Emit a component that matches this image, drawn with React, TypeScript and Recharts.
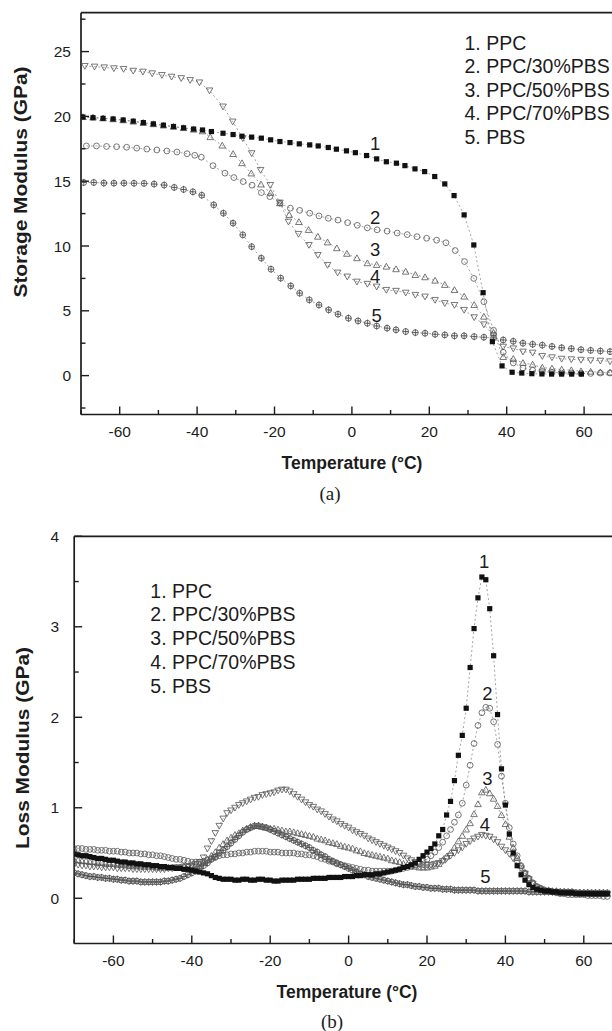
import React from 'react';
import { ScatterChart, Scatter, XAxis, YAxis, ReferenceLine } from 'recharts';

// ---------- (a) Storage modulus: [temperature °C, E' GPa] ----------
const storagePPC: [number, number][] = [
  [-69.5, 19.95], [-66.9, 19.9], [-64.3, 19.85], [-61.7, 19.8], [-59.1, 19.72], [-56.5, 19.63], [-53.9, 19.52], [-51.3, 19.42], [-48.7, 19.32], [-46.1, 19.22],
  [-43.5, 19.12], [-40.9, 19.02], [-38.6, 18.95], [-36.3, 18.83], [-33.3, 18.7], [-30.7, 18.6], [-28.4, 18.47], [-25.9, 18.4], [-23.4, 18.32], [-21, 18.19],
  [-18.6, 18.06], [-16, 17.98], [-13.6, 17.88], [-10.9, 17.8], [-8.7, 17.72], [-6.1, 17.6], [-4.0, 17.47], [-1.4, 17.34], [0.9, 17.2], [3.8, 16.98],
  [6.4, 16.72], [8.9, 16.5], [11.5, 16.39], [13.7, 16.2], [16.3, 15.95], [18.8, 15.74], [21.4, 15.36], [24.0, 14.79], [26.4, 13.89], [29.0, 12.4],
  [31.5, 10.08], [33.9, 6.4], [36.3, 2.62], [38.8, 0.75], [41.4, 0.26], [43.9, 0.2], [46.5, 0.15], [49.1, 0.13], [51.6, 0.12], [54.2, 0.12],
  [56.8, 0.12], [59.3, 0.12],
];
const storage30: [number, number][] = [
  [-68.6, 17.72], [-66, 17.72], [-63.4, 17.68], [-60.8, 17.66], [-58.2, 17.62], [-55.6, 17.55], [-53, 17.48], [-50.4, 17.41], [-47.8, 17.33], [-45.2, 17.25],
  [-42.6, 17.12], [-40.6, 17.0], [-38.9, 16.85], [-35.9, 16.2], [-32.8, 15.62], [-30.5, 15.28], [-28.1, 14.97], [-25.8, 14.69], [-23.4, 14.12], [-21.2, 13.81],
  [-18.6, 13.3], [-15.9, 12.92], [-13.5, 12.75], [-10.9, 12.53], [-8.5, 12.32], [-6.1, 12.14], [-3.6, 12.0], [-1.1, 11.8], [1.4, 11.6], [4.0, 11.4],
  [6.5, 11.25], [9.1, 11.15], [11.7, 11.0], [14.3, 10.88], [16.8, 10.72], [19.3, 10.6], [21.9, 10.45], [24.3, 10.25], [26.7, 9.65], [29.1, 8.8],
  [31.5, 7.5], [34.1, 5.7], [36.6, 3.5], [39.1, 1.8], [41.7, 0.98], [44.2, 0.59], [46.7, 0.41], [49.2, 0.33], [51.7, 0.26], [54.2, 0.2],
  [56.7, 0.2], [59.2, 0.17], [61.7, 0.17], [64.2, 0.2], [66.7, 0.2],
];
const storage50: [number, number][] = [
  [-69.5, 19.95], [-66.9, 19.92], [-64.3, 19.85], [-61.7, 19.78], [-59.1, 19.7], [-56.5, 19.6], [-53.9, 19.5], [-51.3, 19.4], [-48.7, 19.3], [-46.1, 19.2],
  [-43.5, 19.1], [-40.9, 18.98], [-38.6, 18.85], [-36.6, 18.4], [-33.5, 17.75], [-30.7, 17.1], [-28.4, 16.39], [-26, 15.6], [-23.5, 14.75], [-21, 14.1],
  [-18.6, 13.3], [-16.2, 12.4], [-13.7, 11.85], [-11.2, 11.24], [-8.8, 10.72], [-6.3, 10.28], [-3.9, 9.83], [-1.3, 9.4], [1.3, 9.06], [4, 8.67],
  [6.4, 8.54], [8.9, 8.41], [11.4, 8.21], [13.9, 8.02], [16.4, 7.77], [18.9, 7.59], [21.5, 7.33], [24, 7.0], [26.5, 6.61], [29, 6.1],
  [31.6, 5.45], [34.1, 4.55], [36.6, 3.3], [39.1, 1.44], [41.7, 1.29], [44.2, 0.98], [46.7, 0.85], [49.2, 0.62], [51.7, 0.55], [54.2, 0.47],
  [56.7, 0.42], [59.2, 0.34], [61.7, 0.3], [64.2, 0.26], [66.7, 0.24],
];
const storage70: [number, number][] = [
  [-69, 23.89], [-66.5, 23.84], [-64, 23.78], [-61.5, 23.71], [-59, 23.66], [-56.5, 23.52], [-54, 23.45], [-51.6, 23.32], [-49.1, 23.19], [-46.6, 23.06],
  [-44.1, 22.95], [-41.8, 22.8], [-39.4, 22.62], [-36.8, 22.0], [-33.3, 20.76], [-30.8, 19.6], [-28.2, 18.32], [-25.9, 17.16], [-23.6, 15.87], [-21.1, 14.71],
  [-18.6, 13.35], [-16.4, 11.88], [-13.8, 10.93], [-11.1, 10.08], [-8.8, 9.31], [-6.3, 8.54], [-3.7, 7.95], [-1.2, 7.64], [1.3, 7.25], [4.0, 7.08],
  [6.4, 6.87], [8.9, 6.61], [11.4, 6.54], [13.9, 6.4], [16.4, 6.23], [18.9, 6.1], [21.5, 5.84], [24, 5.59], [26.5, 5.45], [29, 5.07],
  [31.6, 4.5], [34.1, 3.95], [36.6, 3.1], [39.1, 2.23], [41.7, 2.1], [44.2, 1.85], [46.7, 1.77], [49.2, 1.51], [51.7, 1.41], [54.2, 1.3],
  [56.7, 1.26], [59.2, 1.22], [61.7, 1.18], [64.2, 1.15], [66.7, 1.1],
];
const storagePBS: [number, number][] = [
  [-69.3, 14.9], [-66.7, 14.9], [-64.1, 14.86], [-61.5, 14.85], [-58.9, 14.85], [-56.3, 14.84], [-53.7, 14.83], [-51.1, 14.78], [-48.5, 14.7], [-45.9, 14.52],
  [-43.5, 14.36], [-41.1, 14.18], [-38.8, 13.92], [-35.7, 13.17], [-33.2, 12.53], [-30.7, 11.76], [-28.2, 10.86], [-25.9, 9.95], [-23.4, 9.06], [-20.9, 8.21],
  [-18.4, 7.52], [-15.8, 6.92], [-13.5, 6.36], [-11, 5.84], [-8.5, 5.45], [-6, 5.07], [-3.6, 4.74], [-0.9, 4.43], [1.6, 4.22], [4, 4.04],
  [6.4, 3.83], [9.1, 3.66], [11.4, 3.53], [13.9, 3.4], [16.4, 3.32], [18.9, 3.27], [21.5, 3.19], [24, 3.14], [26.5, 3.07], [29, 3.07],
  [31.6, 3.01], [34.1, 2.96], [36.6, 2.9], [39.1, 2.75], [41.7, 2.65], [44.2, 2.5], [46.7, 2.42], [49.2, 2.35], [51.7, 2.25], [54.2, 2.15],
  [56.7, 2.08], [59.2, 2.0], [61.7, 1.95], [64.2, 1.9], [66.7, 1.85],
];
const storageCurveLabels = [
  { t: 6, e: 17.9, text: '1' },
  { t: 6, e: 12.2, text: '2' },
  { t: 6, e: 9.7, text: '3' },
  { t: 6, e: 7.65, text: '4' },
  { t: 6.4, e: 4.6, text: '5' },
];

// ---------- (b) Loss modulus: shared temperature grid (°C) ----------
const lossTemps = [
  -70, -69, -68, -67, -66, -65, -64, -63, -62, -61,
  -60, -59, -58, -57, -56, -55, -54, -53, -52, -51,
  -50, -49, -48, -47, -46, -45, -44, -43, -42, -41,
  -40, -39, -38, -37, -36, -35, -34, -33, -32, -31,
  -30, -29, -28, -27, -26, -25, -24, -23, -22, -21,
  -20, -19, -18, -17, -16, -15, -14, -13, -12, -11,
  -10, -9, -8, -7, -6, -5, -4, -3, -2, -1,
  0, 1, 2, 3, 4, 5, 6, 7, 8, 9,
  10, 11, 12, 13, 14, 15, 16, 17, 18, 19,
  20, 21, 22, 23, 24, 25, 26, 27, 28, 29,
  30, 31, 32, 33, 34, 35, 36, 37, 38, 39,
  40, 41, 42, 43, 44, 45, 46, 47, 48, 49,
  50, 51, 52, 53, 54, 55, 56, 57, 58, 59,
  60, 61, 62, 63, 64, 65, 66,
];
const lossPPC = [
  .49, .48, .47, .47, .46, .45, .44, .44, .43, .42,
  .42, .41, .40, .40, .39, .39, .38, .38, .37, .37,
  .36, .36, .35, .35, .34, .34, .33, .33, .32, .32,
  .31, .30, .29, .28, .27, .25, .23, .22, .21, .21,
  .21, .20, .20, .21, .21, .20, .20, .21, .21, .20,
  .20, .19, .19, .20, .20, .20, .20, .21, .21, .21,
  .21, .22, .22, .22, .22, .23, .23, .23, .23, .24,
  .24, .24, .25, .25, .26, .26, .26, .27, .27, .28,
  .29, .30, .31, .32, .34, .35, .37, .39, .43, .47,
  .51, .55, .60, .69, .76, .92, 1.07, 1.30, 1.58, 1.80,
  2.10, 2.55, 2.98, 3.32, 3.55, 3.52, 3.20, 2.68, 2.03, 1.43,
  1.03, .71, .50, .36, .26, .20, .15, .12, .10, .09,
  .08, .08, .07, .07, .06, .06, .06, .06, .05, .05,
  .05, .05, .05, .05, .05, .05, .05,
];
const loss30 = [
  .55, .55, .55, .54, .54, .54, .53, .53, .53, .52,
  .52, .52, .51, .51, .50, .50, .50, .49, .49, .48,
  .48, .47, .47, .46, .45, .44, .43, .43, .42, .41,
  .40, .40, .40, .41, .42, .44, .45, .47, .48, .48,
  .49, .49, .50, .50, .51, .51, .52, .52, .52, .52,
  .51, .51, .51, .50, .50, .50, .50, .49, .49, .48,
  .48, .47, .46, .44, .43, .41, .40, .38, .37, .36,
  .35, .34, .33, .32, .31, .31, .30, .30, .30, .30,
  .30, .30, .31, .32, .33, .34, .35, .37, .38, .41,
  .43, .47, .51, .56, .62, .69, .76, .84, .92, 1.05,
  1.25, 1.47, 1.71, 1.91, 2.05, 2.11, 2.10, 1.95, 1.70, 1.35,
  1.05, .78, .60, .47, .36, .28, .22, .17, .13, .11,
  .09, .08, .07, .06, .05, .05, .04, .04, .04, .04,
  .04, .03, .03, .03, .03, .02, .02,
];
const loss50 = [
  .42, .42, .41, .41, .40, .40, .39, .39, .38, .38,
  .38, .37, .37, .37, .36, .36, .36, .35, .35, .35,
  .35, .34, .34, .34, .34, .34, .34, .34, .35, .35,
  .36, .37, .38, .40, .43, .47, .51, .56, .60, .64,
  .67, .70, .72, .75, .77, .79, .80, .80, .79, .78,
  .77, .77, .76, .75, .74, .74, .73, .72, .71, .70,
  .69, .68, .66, .65, .64, .62, .61, .60, .58, .57,
  .56, .55, .53, .52, .50, .49, .48, .47, .46, .45,
  .44, .42, .41, .40, .38, .37, .36, .35, .34, .34,
  .34, .35, .36, .38, .42, .46, .50, .56, .63, .69,
  .76, .83, .93, 1.04, 1.17, 1.20, 1.16, 1.10, 1.02, .92,
  .82, .68, .56, .45, .36, .28, .22, .17, .13, .11,
  .09, .09, .08, .08, .07, .07, .06, .06, .06, .06,
  .06, .06, .05, .05, .05, .05, .05,
];
const loss70 = [
  .37, .37, .36, .36, .35, .35, .35, .34, .34, .34,
  .34, .33, .33, .33, .33, .32, .32, .32, .32, .32,
  .32, .32, .32, .32, .33, .33, .34, .34, .35, .35,
  .36, .38, .40, .45, .55, .63, .72, .80, .88, .94,
  .97, 1.00, 1.03, 1.05, 1.07, 1.09, 1.11, 1.12, 1.14, 1.15,
  1.16, 1.17, 1.19, 1.20, 1.20, 1.18, 1.15, 1.12, 1.09, 1.06,
  1.03, 1.01, .98, .96, .93, .90, .87, .85, .82, .80,
  .78, .75, .73, .71, .69, .66, .64, .62, .60, .58,
  .56, .54, .52, .50, .47, .44, .42, .40, .38, .37,
  .37, .37, .38, .39, .41, .44, .47, .50, .53, .56,
  .60, .63, .66, .68, .70, .69, .68, .65, .62, .57,
  .53, .49, .44, .39, .33, .27, .21, .16, .12, .10,
  .08, .08, .07, .07, .06, .06, .06, .06, .06, .05,
  .05, .05, .05, .05, .05, .05, .05,
];
const lossPBS = [
  .28, .27, .26, .25, .24, .24, .23, .23, .22, .22,
  .21, .21, .20, .20, .19, .19, .19, .18, .18, .18,
  .18, .18, .18, .19, .19, .20, .21, .22, .24, .26,
  .28, .30, .33, .36, .39, .43, .46, .50, .53, .57,
  .61, .65, .69, .73, .76, .78, .80, .80, .79, .78,
  .76, .74, .72, .70, .68, .66, .64, .62, .60, .58,
  .56, .53, .51, .48, .46, .43, .41, .39, .37, .35,
  .33, .31, .29, .27, .26, .24, .23, .22, .21, .20,
  .19, .18, .17, .16, .15, .15, .14, .13, .13, .12,
  .12, .11, .11, .11, .10, .10, .10, .09, .09, .09,
  .09, .09, .09, .08, .08, .08, .08, .08, .08, .08,
  .08, .08, .08, .08, .08, .08, .07, .07, .07, .07,
  .07, .07, .07, .07, .07, .07, .07, .07, .06, .06,
  .06, .06, .06, .06, .06, .06, .06,
];
const lossCurveLabels = [
  { t: 34.6, e: 3.72, text: '1' },
  { t: 35.4, e: 2.26, text: '2' },
  { t: 35.4, e: 1.32, text: '3' },
  { t: 34.8, e: 0.82, text: '4' },
  { t: 34.9, e: 0.24, text: '5' },
];

// ---------- axes / text ----------
const seriesNames = ['1. PPC', '2. PPC/30%PBS', '3. PPC/50%PBS', '4. PPC/70%PBS', '5. PBS'];
const xTicks = [-70, -60, -50, -40, -30, -20, -10, 0, 10, 20, 30, 40, 50, 60, 70];
const xMajor = [-60, -40, -20, 0, 20, 40, 60];
const storageTicks = [-2.5, 0, 2.5, 5, 7.5, 10, 12.5, 15, 17.5, 20, 22.5, 25, 27.5];
const storageMajor = [0, 5, 10, 15, 20, 25];
const lossTicks = [0, 0.5, 1, 1.5, 2, 2.5, 3, 3.5, 4];
const lossMajor = [0, 1, 2, 3, 4];

const FONT = '"Liberation Sans", Arial, Helvetica, sans-serif';
const INK = '#1c1c1c';
const GRAY = '#555';

const pairsToPoints = (pairs: [number, number][]) => pairs.map(([t, e]) => ({ t, e }));
const gridToPoints = (vals: number[]) => lossTemps.map((t, i) => ({ t, e: vals[i] }));

// ---------- marker shapes ----------
const SquareDot = (p: any) => (
  <rect x={p.cx - 2.6} y={p.cy - 2.6} width={5.2} height={5.2} fill="#111" />
);
const CircleDot = (p: any) => (
  <circle cx={p.cx} cy={p.cy} r={2.9} fill="none" stroke={GRAY} strokeWidth={0.8} />
);
const UpDot = (p: any) => (
  <path d={`M${p.cx},${p.cy - 3.3}L${p.cx + 3.3},${p.cy + 2.5}L${p.cx - 3.3},${p.cy + 2.5}Z`} fill="none" stroke={GRAY} strokeWidth={0.8} />
);
const DownDot = (p: any) => (
  <path d={`M${p.cx},${p.cy + 3.3}L${p.cx + 3.3},${p.cy - 2.5}L${p.cx - 3.3},${p.cy - 2.5}Z`} fill="none" stroke={GRAY} strokeWidth={0.8} />
);
const CrossCircleDot = (p: any) => (
  <g stroke="#444" strokeWidth={0.8} fill="none">
    <circle cx={p.cx} cy={p.cy} r={2.9} />
    <line x1={p.cx} x2={p.cx} y1={p.cy - 3.6} y2={p.cy + 3.6} />
    <line x1={p.cx - 2.9} x2={p.cx + 2.9} y1={p.cy} y2={p.cy} />
  </g>
);
const NumberLabel = (p: any) => (
  <text x={p.cx} y={p.cy} textAnchor="middle" dominantBaseline="central" fontSize={18.5} fontFamily={FONT} fill={INK}>
    {p.payload?.text ?? p.text}
  </text>
);

const connector = { stroke: '#666', strokeWidth: 0.6, strokeDasharray: '2 2.5' };

const X_MARGIN = 16.7;
const makeXTick = (majors: number[]) => (props: any) => {
  const { x, y, payload } = props;
  const v = payload.value;
  const axisY = y - X_MARGIN;
  const major = majors.includes(v);
  return (
    <g>
      <line x1={x} x2={x} y1={axisY} y2={axisY - (major ? 8 : 4.5)} stroke={INK} strokeWidth={1.4} />
      {major ? (
        <text x={x} y={y} textAnchor="middle" dominantBaseline="central" fontSize={15.5} fontFamily={FONT} fill={INK}>
          {v}
        </text>
      ) : null}
    </g>
  );
};
const makeYTick = (majors: number[], margin: number) => (props: any) => {
  const { x, y, payload } = props;
  const v = payload.value;
  const axisX = x + margin;
  const major = majors.includes(v);
  return (
    <g>
      <line x1={axisX} x2={axisX + (major ? 8 : 4.5)} y1={y} y2={y} stroke={INK} strokeWidth={1.4} />
      {major ? (
        <text x={x} y={y} textAnchor="end" dominantBaseline="central" fontSize={15.5} fontFamily={FONT} fill={INK}>
          {v}
        </text>
      ) : null}
    </g>
  );
};

const abs = (left: number, top: number, extra: React.CSSProperties = {}): React.CSSProperties => ({
  position: 'absolute',
  left,
  top,
  transform: 'translate(-50%, -50%)',
  whiteSpace: 'nowrap',
  lineHeight: 1,
  color: INK,
  ...extra,
});

const axisLineStyle = { stroke: INK, strokeWidth: 1.7 };

export default function App() {
  const s1 = pairsToPoints(storagePPC);
  const s2 = pairsToPoints(storage30);
  const s3 = pairsToPoints(storage50);
  const s4 = pairsToPoints(storage70);
  const s5 = pairsToPoints(storagePBS);
  const l1 = gridToPoints(lossPPC);
  const l2 = gridToPoints(loss30);
  const l3 = gridToPoints(loss50);
  const l4 = gridToPoints(loss70);
  const l5 = gridToPoints(lossPBS);

  return (
    <div style={{ position: 'absolute', left: 0, top: 0, width: 612, height: 1031, overflow: 'hidden', background: '#fff', fontFamily: FONT }}>
      {/* ---------- (a) ---------- */}
      <div style={{ position: 'absolute', left: 0, top: 0 }}>
        <ScatterChart width={660} height={445} margin={{ top: 12.7, right: 37.2, bottom: 0, left: 0 }}>
          <XAxis
            type="number"
            dataKey="t"
            domain={[-70, 70]}
            ticks={xTicks}
            interval={0}
            tickSize={0}
            tickMargin={X_MARGIN}
            tickLine={false}
            tick={makeXTick(xMajor)}
            axisLine={axisLineStyle}
            height={30.5}
            allowDataOverflow
          />
          <YAxis
            type="number"
            dataKey="e"
            domain={[-3, 28]}
            ticks={storageTicks}
            interval={0}
            tickSize={0}
            tickMargin={10}
            tickLine={false}
            tick={makeYTick(storageMajor, 10)}
            axisLine={axisLineStyle}
            width={81}
            allowDataOverflow
          />
          <ReferenceLine y={28} stroke={INK} strokeWidth={1.7} />
          <Scatter data={s5} shape={CrossCircleDot} line={connector} isAnimationActive={false} />
          <Scatter data={s4} shape={DownDot} line={connector} isAnimationActive={false} />
          <Scatter data={s3} shape={UpDot} line={connector} isAnimationActive={false} />
          <Scatter data={s2} shape={CircleDot} line={connector} isAnimationActive={false} />
          <Scatter data={s1} shape={SquareDot} line={connector} isAnimationActive={false} />
          <Scatter data={storageCurveLabels} shape={NumberLabel} isAnimationActive={false} />
        </ScatterChart>
      </div>

      <div style={{ position: 'absolute', left: 464.5, top: 31.5, fontSize: 19.5, lineHeight: '23.5px', color: INK, whiteSpace: 'nowrap' }}>
        {seriesNames.map((n) => (
          <div key={n}>{n}</div>
        ))}
      </div>
      <div style={abs(20, 182, { transform: 'translate(-50%, -50%) rotate(-90deg) scaleX(1.1)', fontWeight: 'bold', fontSize: 19 })}>
        Storage Modulus (GPa)
      </div>
      <div style={abs(352, 464, { fontWeight: 'bold', fontSize: 17.5 })}>Temperature (°C)</div>
      <div style={abs(330, 493, { fontFamily: '"Liberation Serif", "DejaVu Serif", serif', fontSize: 19 })}>(a)</div>

      {/* ---------- (b) ---------- */}
      <div style={{ position: 'absolute', left: 0, top: 500 }}>
        <ScatterChart width={660} height={470} margin={{ top: 36.3, right: 37, bottom: 0, left: 0 }}>
          <XAxis
            type="number"
            dataKey="t"
            domain={[-70, 70]}
            ticks={xTicks}
            interval={0}
            tickSize={0}
            tickMargin={X_MARGIN}
            tickLine={false}
            tick={makeXTick(xMajor)}
            axisLine={axisLineStyle}
            height={26.5}
            allowDataOverflow
          />
          <YAxis
            type="number"
            dataKey="e"
            domain={[-0.5, 4]}
            ticks={lossTicks}
            interval={0}
            tickSize={0}
            tickMargin={15}
            tickLine={false}
            tick={makeYTick(lossMajor, 15)}
            axisLine={axisLineStyle}
            width={74.2}
            allowDataOverflow
          />
          <ReferenceLine y={4} stroke={INK} strokeWidth={1.7} />
          <Scatter data={l5} shape={CrossCircleDot} line={connector} isAnimationActive={false} />
          <Scatter data={l4} shape={DownDot} line={connector} isAnimationActive={false} />
          <Scatter data={l3} shape={UpDot} line={connector} isAnimationActive={false} />
          <Scatter data={l2} shape={CircleDot} line={connector} isAnimationActive={false} />
          <Scatter data={l1} shape={SquareDot} line={connector} isAnimationActive={false} />
          <Scatter data={lossCurveLabels} shape={NumberLabel} isAnimationActive={false} />
        </ScatterChart>
      </div>

      <div style={{ position: 'absolute', left: 150.3, top: 579.5, fontSize: 19.5, lineHeight: '23.8px', color: INK, whiteSpace: 'nowrap' }}>
        {seriesNames.map((n) => (
          <div key={n}>{n}</div>
        ))}
      </div>
      <div style={abs(22, 748, { transform: 'translate(-50%, -50%) rotate(-90deg) scaleX(1.1)', fontWeight: 'bold', fontSize: 19 })}>
        Loss Modulus (GPa)
      </div>
      <div style={abs(347, 993, { fontWeight: 'bold', fontSize: 17.5 })}>Temperature (°C)</div>
      <div style={abs(332, 1021, { fontFamily: '"Liberation Serif", "DejaVu Serif", serif', fontSize: 19 })}>(b)</div>
    </div>
  );
}
